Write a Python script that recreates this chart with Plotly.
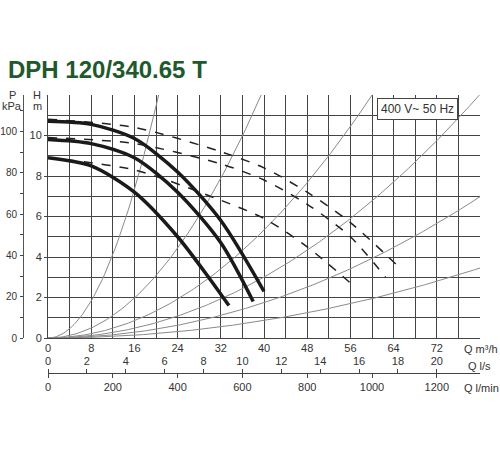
import numpy as np
import plotly.graph_objects as go

# pump curves (Q m3/h, H m)
q_hi = [0, 8, 16, 24, 32, 40]
h_hi = [10.7, 10.55, 9.85, 8.2, 5.8, 2.3]
q_mid = [0, 8, 16, 24, 32, 38]
h_mid = [9.8, 9.6, 8.9, 7.2, 4.7, 1.8]
q_lo = [0, 8, 16, 24, 30, 33.5]
h_lo = [8.9, 8.5, 7.2, 5.0, 2.9, 1.6]
# dashed curves
qd_hi = [0, 16, 32, 40, 48, 56, 65]
hd_hi = [10.8, 10.4, 9.2, 8.4, 7.2, 5.7, 3.5]
qd_mid = [0, 16, 32, 40, 48, 56, 62.5]
hd_mid = [9.9, 9.6, 8.6, 7.8, 6.6, 5.0, 3.0]
qd_lo = [0, 16, 32, 40, 48, 56.5]
hd_lo = [8.9, 8.3, 6.8, 5.9, 4.5, 2.6]
# system curves H = k*Q^2
sys_k = [0.0286, 0.0077, 0.00333, 0.00188, 0.00109, 0.00054]

x_ticks = [0, 8, 16, 24, 32, 40, 48, 56, 64, 72]
h_ticks = [0, 2, 4, 6, 8, 10]
p_ticks = [0, 20, 40, 60, 80, 100]
ls_ticks = [0, 2, 4, 6, 8, 10, 12, 14, 16, 18, 20]
lmin_ticks = [0, 200, 400, 600, 800, 1000, 1200]

W, H = 500, 450
ml, mr, mt, mb = 23, 20, 95, 50
pw, ph = W - ml - mr, H - mt - mb
def PX(px): return (px - ml) / pw
def PY(py): return (H - mb - py) / ph
xd0 = PX(48)
yd0 = PY(338)
pos_q = PY(373)

fig = go.Figure()
for k in sys_k:
    qq = np.linspace(0, 80, 200)
    hh = k * qq**2
    m = hh <= 12.2
    fig.add_trace(go.Scatter(x=qq[m], y=hh[m], mode="lines",
                             line=dict(color="#8a8a8a", width=1), hoverinfo="skip"))
for qx, hy in [(qd_hi, hd_hi), (qd_mid, hd_mid), (qd_lo, hd_lo)]:
    fig.add_trace(go.Scatter(x=qx, y=hy, mode="lines", line=dict(color="#222", width=1.5, dash="dash", shape="spline", smoothing=0.8)))
for qx, hy in [(q_hi, h_hi), (q_mid, h_mid), (q_lo, h_lo)]:
    fig.add_trace(go.Scatter(x=qx, y=hy, mode="lines", line=dict(color="#1a1a1a", width=3.5, shape="spline", smoothing=0.8)))
fig.add_trace(go.Scatter(x=[0], y=[0], xaxis="x2", yaxis="y", mode="markers", marker=dict(opacity=0), hoverinfo="skip"))
fig.add_trace(go.Scatter(x=[0], y=[0], xaxis="x3", yaxis="y", mode="markers", marker=dict(opacity=0), hoverinfo="skip"))
fig.add_trace(go.Scatter(x=[0], y=[0], xaxis="x", yaxis="y2", mode="markers", marker=dict(opacity=0), hoverinfo="skip"))

tf = dict(family="Liberation Sans Narrow, Liberation Sans, Arial", size=11, color="#333")
fig.update_layout(
    width=W, height=H, margin=dict(l=ml, r=mr, t=mt, b=mb, autoexpand=False),
    paper_bgcolor="white", plot_bgcolor="white", showlegend=False, font=tf,
    xaxis=dict(domain=[xd0, 1], range=[0, 80], tickvals=x_ticks, showgrid=True, automargin=False,
               gridcolor="#444", gridwidth=1, minor=dict(dtick=4, showgrid=True, gridcolor="#444"),
               showline=True, linecolor="#444", zeroline=False, ticks="", anchor="y"),
    yaxis=dict(domain=[yd0, 1], range=[0, 12], tickvals=h_ticks, showgrid=True, gridcolor="#444", automargin=False,
               minor=dict(dtick=1, showgrid=True, gridcolor="#444"), showline=True, linecolor="#444",
               zeroline=False, ticks="outside", ticklen=3, anchor="x"),
    yaxis2=dict(domain=[yd0, 1], range=[0, 12 * 9.81], tickvals=p_ticks, overlaying="y", anchor="free",
                position=0, side="left", showgrid=False, showline=True, linecolor="#555", automargin=False,
                tickfont=dict(size=10), ticklabelstandoff=1,
                ticks="outside", ticklen=3, minor=dict(dtick=10, ticks="outside", ticklen=3), zeroline=False),
    xaxis2=dict(domain=[xd0, 1], range=[0, 80 / 3.6], tickvals=ls_ticks, anchor="free", position=pos_q,
                side="top", overlaying="x", showgrid=False, showline=True, linecolor="#444", automargin=False,
                ticks="outside", ticklen=4, zeroline=False),
    xaxis3=dict(domain=[xd0, 1], range=[0, 80 / 0.06], tickvals=lmin_ticks, anchor="free", position=pos_q,
                side="bottom", overlaying="x", showgrid=False, showline=False, automargin=False,
                ticks="outside", ticklen=4, zeroline=False),
)
fig.add_annotation(text="<b>DPH 120/340.65 T</b>", xref="paper", yref="paper",
                   x=PX(6), y=PY(70), xanchor="left", yanchor="middle", showarrow=False,
                   font=dict(family="Liberation Sans Narrow, Liberation Sans", size=24, color="#1e5a2c"))
def pa(text, px, py, xa="left", size=11):
    fig.add_annotation(text=text, xref="paper", yref="paper", x=PX(px), y=PY(py),
                       xanchor=xa, yanchor="middle", showarrow=False, font=dict(size=size, color="#333"))
pa("P", 12, 95, "center"); pa("kPa", 12, 106, "center")
pa("H", 37, 95, "center"); pa("m", 37, 106, "center")
pa("Q m³/h", 462, 349); pa("Q l/s", 466, 366); pa("Q l/min", 462, 388)
fig.add_annotation(text="400 V~ 50 Hz", xref="x", yref="y", x=76, y=11.3, xanchor="right", showarrow=False,
                   bgcolor="white", bordercolor="#444", borderwidth=1, borderpad=3, font=dict(size=12, color="#333"))
fig.write_html("out.html", config={"displayModeBar": False},
               post_script="document.body.style.margin='0';")
